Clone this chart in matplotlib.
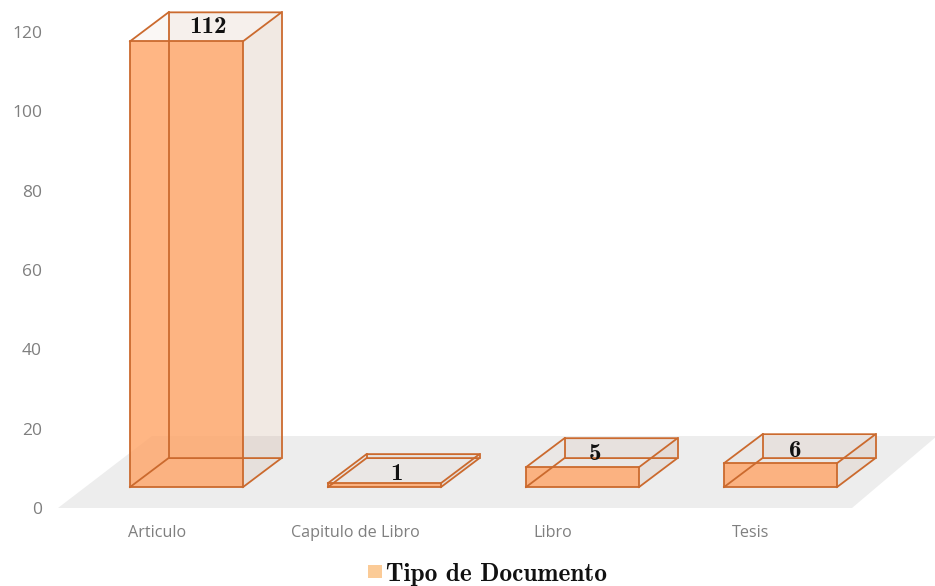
import matplotlib
matplotlib.use("Agg")
import matplotlib.pyplot as plt
from matplotlib.patches import Polygon, Rectangle

categories = ["Articulo", "Capitulo de Libro", "Libro", "Tesis"]
values = [112, 1, 5, 6]
y_ticks = [0, 20, 40, 60, 80, 100, 120]
legend_label = "Tipo de Documento"

W, H = 935, 586
PX_X = 198.0      # pixels per category
PX_Y = 3.98       # pixels per value unit
X0 = 186.5        # pixel of first category centre
Y0 = 507.0        # pixel of value 0

fig = plt.figure(figsize=(W / 100, H / 100), dpi=100)
ax = fig.add_axes([0, 0, 1, 1])
ax.set_xlim(-X0 / PX_X, (W - X0) / PX_X)
ax.set_ylim((Y0 - H) / PX_Y, Y0 / PX_Y)
ax.axis("off")

def px(x, y):
    return ((x - X0) / PX_X, (Y0 - y) / PX_Y)

# floor
ax.add_patch(Polygon([px(58, 508), px(852, 508), px(937, 436), px(152, 436)],
                     closed=True, fc="#EDEDED", ec="none", zorder=1))

EDGE = "#CB6A2E"
FRONT = "#FFA466"
GLASS = "#C9A48C"
half = 56.5 / PX_X
dx = 38.5 / PX_X
dy = 29.0 / PX_Y
base = 5.0        # front base sits this far above the zero level
lw = 1.3

for i, v in enumerate(values):
    l, r = i - half, i + half
    b, t = base, base + v
    # glass faces
    for pts, a in (
        ([(l + dx, b + dy), (r + dx, b + dy), (r + dx, t + dy), (l + dx, t + dy)], 0.08),
        ([(r, b), (r + dx, b + dy), (r + dx, t + dy), (r, t)], 0.17),
        ([(l, t), (r, t), (r + dx, t + dy), (l + dx, t + dy)], 0.08),
    ):
        ax.add_patch(Polygon(pts, closed=True, fc=GLASS, ec="none", alpha=a, zorder=2))
    # front face
    ax.add_patch(Rectangle((l, b), r - l, t - b, fc=FRONT, ec="none", alpha=0.8, zorder=3))
    # edges
    segs = [
        [(l, b), (r, b), (r, t), (l, t), (l, b)],
        [(l, b), (l + dx, b + dy), (r + dx, b + dy), (r, b)],
        [(l, t), (l + dx, t + dy), (r + dx, t + dy), (r, t)],
        [(l + dx, b + dy), (l + dx, t + dy)],
        [(r + dx, b + dy), (r + dx, t + dy)],
    ]
    for s in segs:
        ax.plot([p[0] for p in s], [p[1] for p in s], color=EDGE, lw=lw,
                solid_joinstyle="miter", zorder=4)

# data labels
label_dx = [21.5, 12, 13, 15]
label_dy = [14, 9, 13, 12]
for i, v in enumerate(values):
    ax.annotate(str(v), (i, base + v), xytext=(label_dx[i], label_dy[i]),
                textcoords="offset pixels", ha="center", va="center",
                family="cmb10", fontsize=18, color="#111111", zorder=5)

# axis labels
GREY = "#7F7F7F"
TICK_STEP = 3.967
for t in y_ticks:
    ax.text(*px(42, 510 - t * TICK_STEP), str(t), ha="right", va="center",
            family="Open Sans", fontsize=12.5, color=GREY)
for i, c in enumerate(categories):
    ax.text(i - 29.5 / PX_X, px(0, 533)[1], c, ha="center", va="center",
            family="Open Sans", fontsize=11.6, color=GREY)

# legend
ax.add_patch(Rectangle(px(368, 578), 14 / PX_X, 13 / PX_Y, fc="#FBCB97", ec="none", zorder=5))
ax.text(*px(386, 575), legend_label, ha="left", va="center",
        family="cmb10", fontsize=18.2, color="#111111")

fig.savefig("out.png", dpi=100)
